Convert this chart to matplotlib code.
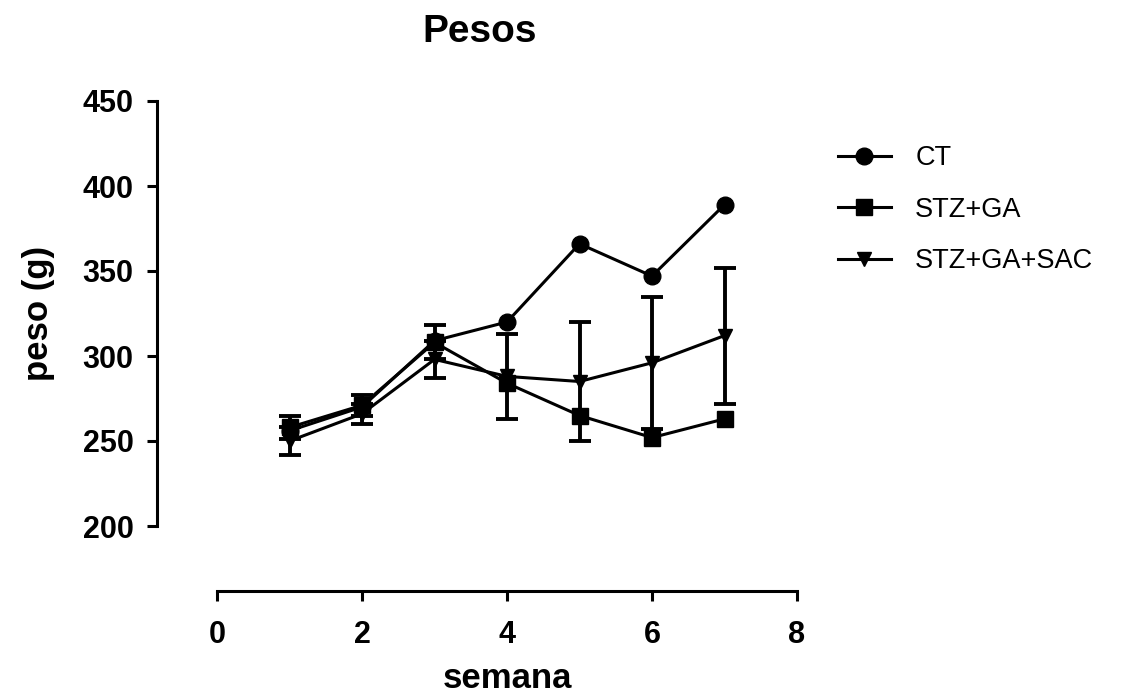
import numpy as np
import matplotlib.pyplot as plt

plt.rcParams['font.family'] = ['Liberation Sans', 'DejaVu Sans']

nan = np.nan

# data (nan = error bar hidden / not shown)
semana = [1, 2, 3, 4, 5, 6, 7]
ct = [256, 270, 309, 320, 366, 347, 389]
ct_err = [nan, nan, nan, nan, nan, nan, nan]
stz_ga = [258, 271, 308, 284, 265, 252, 263]
stz_ga_err = [7, 6, 10, nan, nan, nan, nan]
stz_ga_sac = [250, 266, 298, 288, 285, 296, 312]
stz_ga_sac_err = [8, 6, 11, 25, 35, 39, 40]

series = [
    ("CT", ct, ct_err, "o", 12),
    ("STZ+GA", stz_ga, stz_ga_err, "s", 11.5),
    ("STZ+GA+SAC", stz_ga_sac, stz_ga_sac_err, "v", 9.5),
]

W, H = 1142, 693
fig = plt.figure(figsize=(W / 100, H / 100), dpi=100)
ax = fig.add_axes([217 / W, (H - 526) / H, (797 - 217) / W, (526 - 101) / H])

for name, vals, err, mk, ms in series:
    ax.errorbar(semana, vals, yerr=err, color="black", marker=mk, markersize=ms,
                linewidth=2.2, elinewidth=2.8, capsize=8, capthick=2.8,
                label=name, clip_on=False)

ax.set_xlim(0, 8)
ax.set_ylim(200, 450)
ax.set_xticks([0, 2, 4, 6, 8])
ax.set_yticks([200, 250, 300, 350, 400, 450])

for s in ["top", "right"]:
    ax.spines[s].set_visible(False)
ax.spines["left"].set_position(("outward", 43))
ax.spines["bottom"].set_position(("outward", 47))
ax.spines["left"].set_bounds(200, 450)
ax.spines["bottom"].set_bounds(0, 8)
for s in ["left", "bottom"]:
    ax.spines[s].set_linewidth(2.2)

ax.tick_params(axis="both", width=2.2, length=7, labelsize=22)
ax.tick_params(axis="x", pad=14)
ax.tick_params(axis="y", pad=10)
for lab in ax.get_xticklabels() + ax.get_yticklabels():
    lab.set_fontweight("bold")

ax.set_xlabel("semana", fontsize=25, fontweight="bold", labelpad=8)
ax.set_ylabel("peso (g)", fontsize=25, fontweight="bold", labelpad=20)
fig.text(480 / W, 1 - 32 / H, "Pesos", fontsize=28, fontweight="bold",
         ha="center", va="center")

handles, labels = ax.get_legend_handles_labels()
handles = [h[0] for h in handles]
ax.legend(handles, labels, loc="upper left",
          bbox_to_anchor=(838 / W, 1 - 145 / H), bbox_transform=fig.transFigure,
          frameon=False, fontsize=19.5, handlelength=1.95, labelspacing=0.95,
          handletextpad=0.9, borderpad=0, borderaxespad=0)

fig.savefig("out.png", dpi=100)
